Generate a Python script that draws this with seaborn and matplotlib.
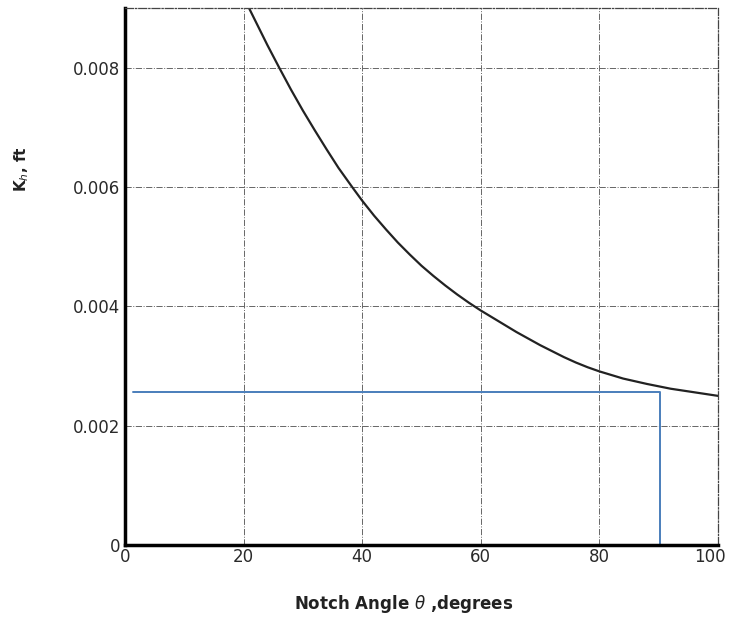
import pandas as pd
import matplotlib
matplotlib.use('Agg')
import matplotlib.pyplot as plt
import matplotlib.transforms as mtrans
import seaborn as sb

# curve
angle = [20.9, 22, 24, 26, 28, 30, 32, 34, 36, 38.3, 40, 42, 44, 46, 48, 50, 52, 54, 56, 58, 60,
         62, 64, 66, 68, 70, 72, 74, 76, 78, 80, 84, 88, 92, 96, 100]
kh = [0.0090, 0.00878, 0.00838, 0.0080, 0.00763, 0.00728, 0.00695, 0.00663, 0.00632, 0.0060,
      0.00577, 0.00552, 0.00529, 0.00507, 0.00487, 0.00468, 0.00451, 0.00435, 0.00420, 0.00406,
      0.00393, 0.00381, 0.00369, 0.00357, 0.00346, 0.00335, 0.00325, 0.00315, 0.00306, 0.00298,
      0.00291, 0.00279, 0.00270, 0.00262, 0.00256, 0.0025]

# blue marker line
blue_x = [1.3, 90.2, 90.2]
blue_y = [0.00256, 0.00256, 0.0]

x_ticks = [0, 20, 40, 60, 80, 100]
y_ticks = [0, 0.002, 0.004, 0.006, 0.008]
y_labels = ['0', '0.002', '0.004', '0.006', '0.008']

sb.set_theme(style="white")
plt.rcParams['font.family'] = ['DejaVu Sans']

fig = plt.figure(figsize=(7.29, 6.36), dpi=100)
ax = fig.add_axes([0.1715, 0.143, 0.8135, 0.8444])

data = pd.DataFrame({'angle': angle, 'kh': kh})
sb.lineplot(data=data, x='angle', y='kh', color='#222222', linewidth=1.6, estimator=None, ax=ax)
ax.plot(blue_x, blue_y, color='#4a7ebb', linewidth=1.4)

ax.set_xlim(0, 100)
ax.set_ylim(0, 0.009)
ax.set_xticks(x_ticks)
ax.set_xticklabels([str(t) for t in x_ticks], fontsize=12, color='#2a2a2a')
ax.set_yticks(y_ticks)
ax.set_yticklabels(y_labels, fontsize=12, color='#2a2a2a')
ax.tick_params(axis='y', length=0, pad=3.5)
ax.tick_params(axis='x', length=0, pad=2)

# nudge "100" left so it stays on the canvas like the original
last = ax.get_xticklabels()[-1]
last.set_transform(last.get_transform() + mtrans.ScaledTranslation(-8 / 100, 0, fig.dpi_scale_trans))

ax.grid(True, linestyle='-.', color='#666666', linewidth=0.7)
for side in ['left', 'bottom']:
    ax.spines[side].set_color('black')
    ax.spines[side].set_linewidth(2.5)
for side in ['top', 'right']:
    ax.spines[side].set_color('#444444')
    ax.spines[side].set_linewidth(0.9)
    ax.spines[side].set_linestyle('-.')

ax.set_xlabel('Notch Angle $\\theta$ ,degrees', fontsize=12, fontweight='bold', color='#222222')
ax.xaxis.set_label_coords(0.47, -0.089)
ax.set_ylabel('K$_h$, ft', fontsize=11, fontweight='bold', color='#222222')
ax.yaxis.set_label_coords(-0.158, 0.70)

plt.savefig('out.png', dpi=100)
